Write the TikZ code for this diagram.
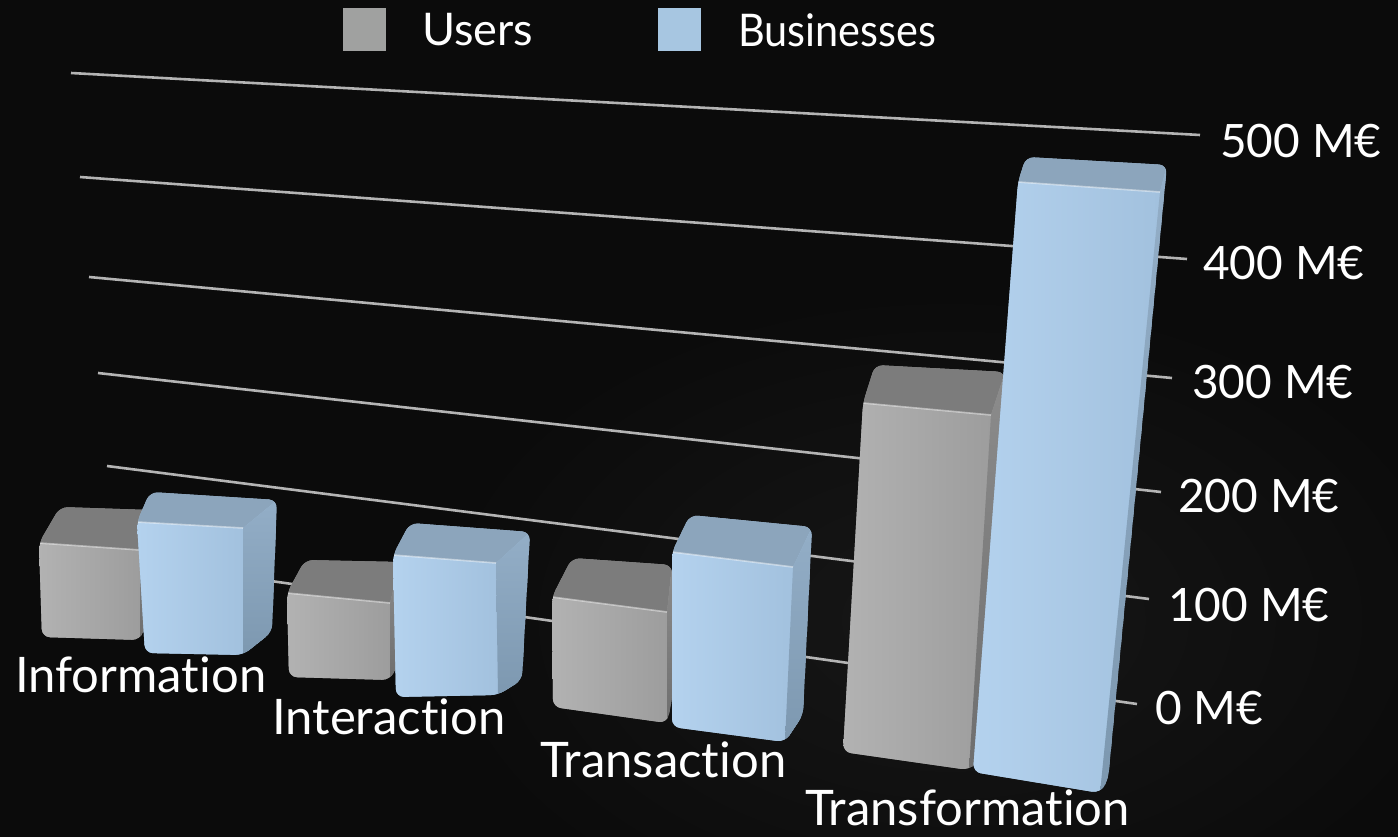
\documentclass[tikz,border=0pt]{standalone}
\usepackage{fontspec}
\setmainfont{Lato}[Ligatures={NoCommon,NoRare}]
\definecolor{bgc}{HTML}{0B0B0B}
\definecolor{bgl}{HTML}{171717}
\definecolor{gridc}{HTML}{B4B4B4}
\definecolor{gfrontA}{HTML}{B2B2B2}
\definecolor{gfrontB}{HTML}{9D9D9D}
\definecolor{gtop}{HTML}{7C7C7C}
\definecolor{gsideA}{HTML}{8C8C8C}
\definecolor{gsideB}{HTML}{6E6E6E}
\definecolor{bfrontA}{HTML}{B4D2EE}
\definecolor{bfrontB}{HTML}{A2C1DE}
\definecolor{btop}{HTML}{8CA5BC}
\definecolor{bsideA}{HTML}{93AEC7}
\definecolor{bsideB}{HTML}{7D98B0}
\definecolor{legg}{HTML}{A0A1A0}
\definecolor{legb}{HTML}{A7C6E1}
\newcommand\mybox[8]{%
  \begin{scope}
    \clip[rounded corners=8pt] #5 -- #2 -- #6 -- #7 -- #8 -- #4 -- cycle;
    \fill[#1frontB] #5 -- #2 -- #6 -- #7 -- #8 -- #4 -- cycle;
    \shade[left color=#1frontA, right color=#1frontB] #5 -- #2 -- #3 -- #4 -- cycle;
    \fill[#1top] #2 -- #6 -- #7 -- #3 -- cycle;
    \shade[top color=#1sideA, bottom color=#1sideB] #3 -- #7 -- #8 -- #4 -- cycle;
    \draw[white, opacity=0.45, line width=1.6pt] #2 -- #3;
  \end{scope}}
\begin{document}
\begin{tikzpicture}[x=1pt,y=-1pt,
  gridline/.style={draw=gridc, line width=2.6pt},
  cat/.style={text=white, font=\fontsize{49}{52}\selectfont, inner sep=0pt, anchor=base west},
  axl/.style={text=white, font=\fontsize{46}{50}\selectfont, inner sep=0pt, anchor=west},
  leg/.style={text=white, font=\fontsize{45}{50}\selectfont, inner sep=0pt, anchor=west}]
\useasboundingbox (0,0) rectangle (1398,837);
\fill[bgc] (0,0) rectangle (1398,837);
\shade[inner color=bgl, outer color=bgc] (950,620) ellipse [x radius=520pt, y radius=330pt];
% grid lines
\coordinate (g5a) at (71,73);   \coordinate (g5b) at (1200,135);
\coordinate (g4a) at (80,177);  \coordinate (g4b) at (1187,259);
\coordinate (g3a) at (89,277);  \coordinate (g3b) at (1172,378);
\coordinate (g2a) at (98,373);  \coordinate (g2b) at (1161,492);
\coordinate (g1a) at (107,466); \coordinate (g1b) at (1149,599);
\coordinate (g0a) at (116,559); \coordinate (g0b) at (1137,704);
\foreach \i in {0,...,5} {\draw[gridline] (g\i a) -- (g\i b);}
% axis labels
\node[axl] (l5) at (1220,141) {500 M€};
\node[axl] (l4) at (1203,263) {400 M€};
\node[axl] (l3) at (1192,382) {300 M€};
\node[axl] (l2) at (1178,496) {200 M€};
\node[axl] (l1) at (1168,605) {100 M€};
\node[axl] (l0) at (1155,708) {0 M€};
% bars: scheme, TL, TR, BR, BL, backL, backR, sideBottom
\mybox{g}{(39,543)}{(140,550)}{(140,640)}{(42,637)}{(60,507)}{(150,510)}{(150,615)}
\mybox{b}{(137,522)}{(243,528)}{(243,655)}{(145,653)}{(150,492)}{(277,500)}{(272,632)}
\mybox{g}{(287,593)}{(390,603)}{(390,680)}{(289,677)}{(305,560)}{(400,562)}{(400,660)}
\mybox{b}{(393,555)}{(496,563)}{(498,695)}{(396,697)}{(410,523)}{(530,532)}{(522,680)}
\mybox{g}{(552,597)}{(667,612)}{(667,723)}{(553,707)}{(572,558)}{(672,565)}{(672,700)}
\mybox{b}{(672,552)}{(793,567)}{(785,742)}{(672,727)}{(690,515)}{(812,527)}{(803,715)}
\mybox{g}{(863,403)}{(991,415)}{(969,770)}{(843,752)}{(875,365)}{(1005,372)}{(985,755)}
\mybox{b}{(1018,182)}{(1160,192)}{(1100,793)}{(973,772)}{(1026,157)}{(1167,165)}{(1108,780)}
% category labels
\node[cat] (c1) at (15,692) {Information};
\node[cat] (c2) at (272,734) {Interaction};
\node[cat] (c3) at (540,777) {Transaction};
\node[cat] (c4) at (805,825) {Transformation};
% legend
\fill[legg] (343,8) rectangle (386,51);
\fill[legb] (658,8) rectangle (701,51);
\node[leg] (lu) at (422,30) {Users};
\node[leg, xscale=0.92] (lb) at (738,30) {Businesses};
\end{tikzpicture}
\end{document}
